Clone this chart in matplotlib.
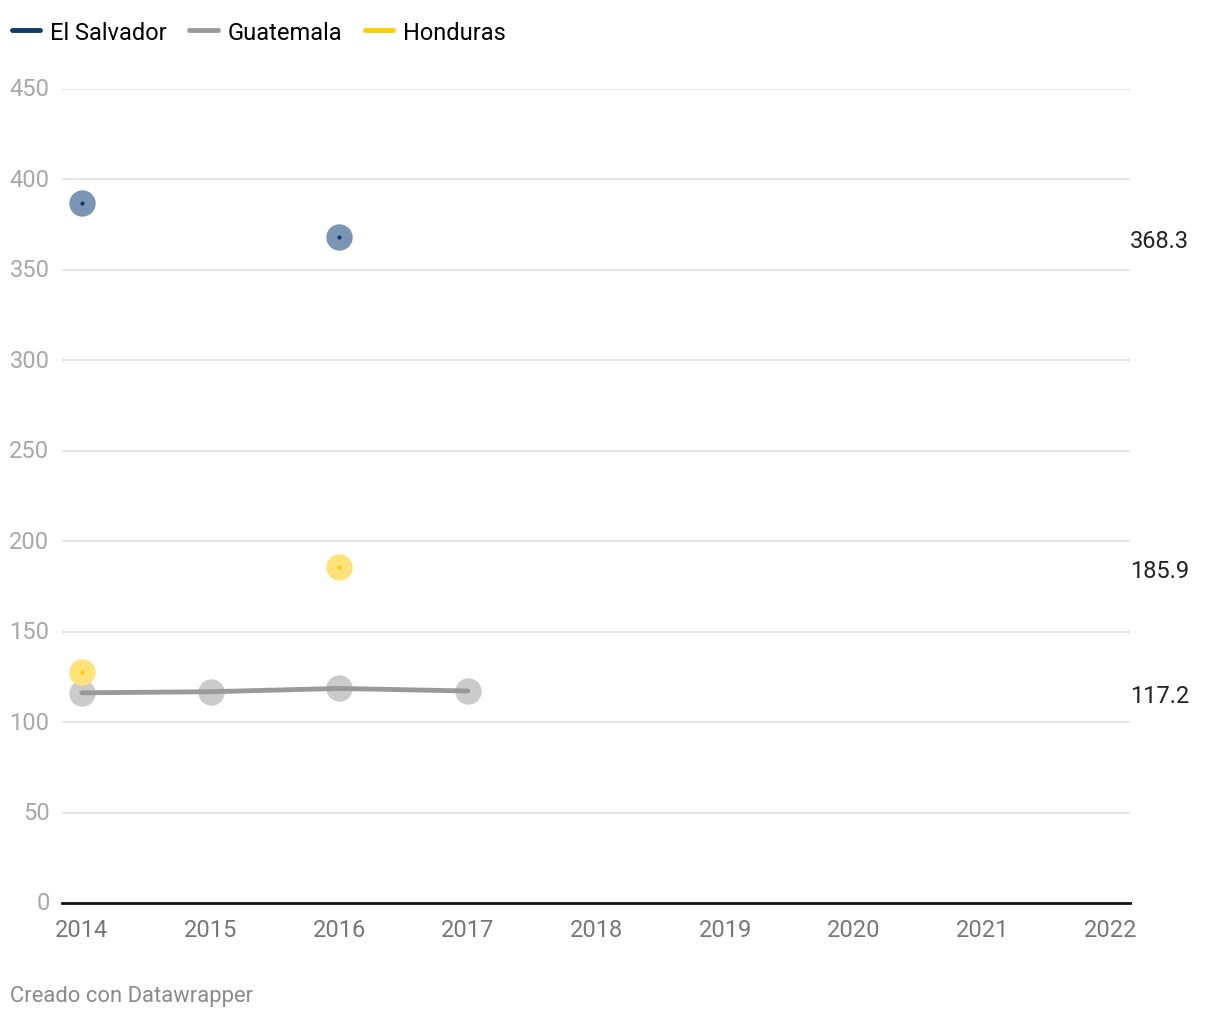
import numpy as np
import matplotlib.pyplot as plt
import matplotlib.lines as mlines

plt.rcParams['font.family'] = ['Roboto', 'DejaVu Sans']

years = [2014, 2015, 2016, 2017, 2018, 2019, 2020, 2021, 2022]
el_salvador = [387.0, np.nan, 368.3, np.nan, np.nan, np.nan, np.nan, np.nan, np.nan]
guatemala = [116.2, 116.8, 118.6, 117.2, np.nan, np.nan, np.nan, np.nan, np.nan]
honduras = [127.9, np.nan, 185.9, np.nan, np.nan, np.nan, np.nan, np.nan, np.nan]

series = [
    ('El Salvador', el_salvador, '#0b3a6b', '#7b95b4'),
    ('Guatemala', guatemala, '#999999', '#cbcbcb'),
    ('Honduras', honduras, '#ffcc00', '#ffe27a'),
]
end_labels = ['368.3', '117.2', '185.9']
end_values = [368.3, 117.2, 185.9]
y_ticks = [0, 50, 100, 150, 200, 250, 300, 350, 400, 450]

fs = 17

fig = plt.figure(figsize=(12.2, 10.2), dpi=100)
ax = fig.add_axes([62 / 1220, 116 / 1020, (1130 - 62) / 1220, (904 - 90) / 1020])

for name, vals, col, light in series:
    v = np.array(vals, dtype=float)
    ax.plot(years, v, color=light, marker='o', linestyle='none', markersize=19,
            markeredgewidth=0, zorder=3)
    ax.plot(years, v, color=col, linewidth=3.5, solid_capstyle='round', zorder=4)
    if name != 'Guatemala':
        ax.plot(years, v, color=col, marker='o', linestyle='none', markersize=3,
                markeredgewidth=0, zorder=5)

ax.set_xlim(2013.845, 2022.148)
ax.set_ylim(0, 450)
ax.set_yticks(y_ticks)
ax.set_xticks(years)
ax.set_xticklabels([str(y) for y in years])
ax.grid(axis='y', color='#e3e3e3', linewidth=1.3)
ax.set_axisbelow(True)
for s in ['top', 'right', 'left']:
    ax.spines[s].set_visible(False)
ax.spines['bottom'].set_color('#111111')
ax.spines['bottom'].set_linewidth(2)
ax.spines['bottom'].set_zorder(6)
ax.tick_params(axis='y', length=0, pad=9, labelsize=fs, labelcolor='#a8a8a8')
ax.tick_params(axis='x', length=0, pad=11, labelsize=fs, labelcolor='#777777')
for lbl in ax.get_yticklabels():
    lbl.set_verticalalignment('center')

for txt, val in zip(end_labels, end_values):
    ax.annotate(txt, xy=(1.0, val), xycoords=('axes fraction', 'data'),
                xytext=(0, -3), textcoords='offset points',
                ha='left', va='center', fontsize=fs, color='#222222')

handles = [mlines.Line2D([], [], color=c, linewidth=3.5, solid_capstyle='round')
           for _, _, c, _ in series]
fig.legend(handles, [n for n, _, _, _ in series], loc='center left',
           bbox_to_anchor=(12 / 1220, 1 - 33 / 1020), ncol=3, frameon=False,
           fontsize=fs, handlelength=1.2, handletextpad=0.42, columnspacing=0.95,
           borderaxespad=0, borderpad=0)

fig.text(10 / 1220, 1 - 997 / 1020, 'Creado con Datawrapper', fontsize=15.8,
         color='#8a8a8a', ha='left', va='center')

fig.savefig('out.png', dpi=100)
